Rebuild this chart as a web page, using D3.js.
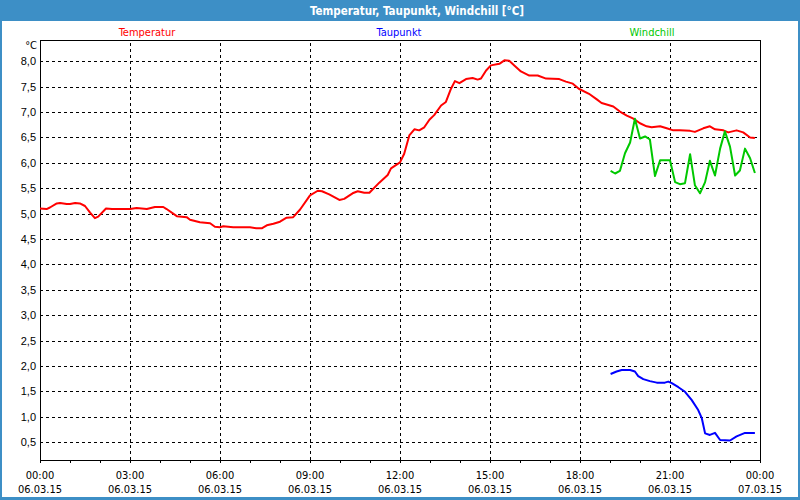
<!DOCTYPE html>
<html>
<head>
<meta charset="utf-8">
<script src="https://cdn.jsdelivr.net/npm/d3@7"></script>
<style>
  body { margin: 0; background: #fff; }
  svg { display: block; font-family: "DejaVu Sans Condensed", "Liberation Sans", sans-serif; }
</style>
</head>
<body>
<svg id="chart" width="800" height="500"></svg>
<script>
// series data, hours since 06.03.15 00:00
const tempHours = [0, 0.22, 0.33, 0.56, 0.67, 0.89, 1.0, 1.17, 1.33, 1.5, 1.67, 1.83, 1.94, 2.2, 2.4, 2.67, 3.0, 3.22, 3.56, 3.83, 4.11, 4.22, 4.56, 4.89, 5.0, 5.33, 5.67, 5.83, 6.0, 6.11, 6.44, 7.0, 7.22, 7.39, 7.56, 7.78, 8.0, 8.22, 8.44, 8.67, 9.0, 9.26, 9.4, 9.64, 9.98, 10.14, 10.42, 10.59, 10.81, 10.98, 11.31, 11.59, 11.7, 12.0, 12.14, 12.31, 12.48, 12.64, 12.81, 12.98, 13.14, 13.37, 13.53, 13.7, 13.83, 13.98, 14.2, 14.42, 14.59, 14.7, 14.87, 15.03, 15.31, 15.48, 15.64, 15.81, 16.03, 16.31, 16.59, 16.87, 17.31, 17.53, 17.76, 17.96, 18.3, 18.56, 18.72, 18.89, 19.11, 19.33, 19.56, 19.78, 20.0, 20.22, 20.39, 20.67, 20.89, 21.11, 21.33, 21.67, 21.83, 22.11, 22.33, 22.5, 22.78, 22.94, 23.22, 23.44, 23.67, 23.83]
const tempValues = [5.10, 5.09, 5.12, 5.20, 5.21, 5.19, 5.19, 5.21, 5.20, 5.15, 5.02, 4.91, 4.94, 5.10, 5.09, 5.09, 5.09, 5.11, 5.09, 5.13, 5.13, 5.09, 4.95, 4.93, 4.88, 4.83, 4.81, 4.74, 4.73, 4.75, 4.73, 4.73, 4.71, 4.71, 4.77, 4.80, 4.84, 4.92, 4.93, 5.08, 5.36, 5.45, 5.44, 5.38, 5.27, 5.29, 5.40, 5.44, 5.41, 5.41, 5.61, 5.76, 5.89, 6.01, 6.18, 6.54, 6.66, 6.64, 6.70, 6.85, 6.94, 7.13, 7.20, 7.46, 7.61, 7.57, 7.65, 7.67, 7.64, 7.66, 7.82, 7.92, 7.95, 8.02, 8.01, 7.92, 7.80, 7.72, 7.72, 7.66, 7.65, 7.60, 7.56, 7.46, 7.36, 7.25, 7.18, 7.15, 7.11, 7.01, 6.93, 6.87, 6.78, 6.72, 6.70, 6.72, 6.68, 6.64, 6.64, 6.63, 6.61, 6.68, 6.72, 6.66, 6.64, 6.60, 6.64, 6.60, 6.50, 6.49]

const dewHours = [19.02, 19.22, 19.39, 19.67, 19.83, 19.94, 20.11, 20.33, 20.56, 20.83, 20.94, 21.06, 21.28, 21.5, 21.72, 21.94, 22.06, 22.17, 22.33, 22.5, 22.67, 23.0, 23.22, 23.5, 23.83]
const dewValues = [1.84, 1.89, 1.92, 1.92, 1.89, 1.80, 1.74, 1.70, 1.67, 1.67, 1.69, 1.66, 1.58, 1.49, 1.33, 1.13, 0.97, 0.67, 0.64, 0.68, 0.54, 0.53, 0.61, 0.68, 0.68]

const chillHours = [19.02, 19.17, 19.33, 19.5, 19.67, 19.83, 20.0, 20.17, 20.33, 20.5, 20.67, 21.0, 21.17, 21.33, 21.5, 21.67, 21.83, 22.0, 22.17, 22.33, 22.5, 22.67, 22.83, 23.0, 23.17, 23.33, 23.5, 23.67, 23.83]
const chillValues = [5.84, 5.79, 5.84, 6.19, 6.40, 6.87, 6.48, 6.52, 6.46, 5.74, 6.05, 6.05, 5.62, 5.58, 5.60, 6.17, 5.56, 5.40, 5.62, 6.04, 5.75, 6.28, 6.62, 6.32, 5.75, 5.85, 6.28, 6.09, 5.80]

const yTicks = [0.5, 1.0, 1.5, 2.0, 2.5, 3.0, 3.5, 4.0, 4.5, 5.0, 5.5, 6.0, 6.5, 7.0, 7.5, 8.0]
const seriesNames = ["Temperatur", "Taupunkt", "Windchill"]
const seriesColors = ["#ff0000", "#0000ff", "#00c800"]
const titleText = "Temperatur, Taupunkt, Windchill [°C]"

const W = 800, H = 500
const plot = { left: 40, right: 760, top: 40, bottom: 460 }
const day0 = new Date(2015, 2, 6)
const atHour = h => new Date(day0.getTime() + h * 3600e3)

const svg = d3.select("#chart")
const x = d3.scaleTime().domain([day0, atHour(24)]).range([plot.left, plot.right])
const y = d3.scaleLinear().domain([0.146, 8.42]).range([plot.bottom, plot.top])

// window frame + title bar
const frame = "#3d8fc6"
svg.append("rect").attr("width", W).attr("height", H).attr("fill", frame)
svg.append("rect").attr("x", 2).attr("y", 21).attr("width", W - 4).attr("height", H - 24).attr("fill", "#fff")
svg.append("text").attr("x", 417).attr("y", 15).attr("text-anchor", "middle")
  .attr("fill", "#fff").attr("font-weight", "bold").attr("font-size", 11.5).text(titleText)

// legend labels
const legendX = [147, 399, 652]
seriesNames.forEach((n, i) => {
  svg.append("text").attr("x", legendX[i]).attr("y", 36).attr("text-anchor", "middle")
    .attr("font-size", 11).attr("fill", seriesColors[i]).text(n)
})
svg.append("text").attr("x", 37).attr("y", 49).attr("text-anchor", "end").attr("font-size", 11).text("°C")

// grid
const dash = "3,3"
const yGrid = svg.append("g").attr("transform", `translate(${plot.left},0)`)
  .call(d3.axisLeft(y).tickValues(yTicks).tickSize(-(plot.right - plot.left)).tickFormat(""))
yGrid.select(".domain").remove()
yGrid.selectAll("line").attr("stroke", "#000").attr("stroke-dasharray", dash).attr("shape-rendering", "crispEdges")

const xGrid = svg.append("g").attr("transform", `translate(0,${plot.bottom})`)
  .call(d3.axisBottom(x).ticks(d3.timeHour.every(3)).tickSize(-(plot.bottom - plot.top)).tickFormat(""))
xGrid.select(".domain").remove()
xGrid.selectAll("line").attr("stroke", "#000").attr("stroke-dasharray", dash).attr("shape-rendering", "crispEdges")

// y labels
const yAx = svg.append("g").attr("transform", `translate(${plot.left},0)`)
  .call(d3.axisLeft(y).tickValues(yTicks).tickSize(0).tickPadding(4)
    .tickFormat(d => d.toFixed(1).replace(".", ",")))
yAx.select(".domain").remove()
yAx.selectAll("text").attr("font-size", 11).attr("font-family", null).attr("fill", "#000")

// hourly ticks on x axis
const xAx = svg.append("g").attr("transform", `translate(0,${plot.bottom})`)
  .call(d3.axisBottom(x).ticks(d3.timeHour.every(1)).tickSize(3).tickFormat(""))
xAx.select(".domain").remove()
xAx.selectAll("line").attr("stroke", "#000").attr("shape-rendering", "crispEdges")

// x labels (two lines)
const fmtTime = d3.timeFormat("%H:%M"), fmtDate = d3.timeFormat("%d.%m.%y")
const xLab = svg.append("g")
x.ticks(d3.timeHour.every(3)).forEach(d => {
  const t = xLab.append("text").attr("text-anchor", "middle").attr("font-size", 11)
  t.append("tspan").attr("x", x(d)).attr("y", 479).text(fmtTime(d))
  t.append("tspan").attr("x", x(d)).attr("y", 493).text(fmtDate(d))
})

// plot frame
svg.append("rect").attr("x", plot.left + 0.5).attr("y", plot.top + 0.5)
  .attr("width", plot.right - plot.left).attr("height", plot.bottom - plot.top)
  .attr("fill", "none").attr("stroke", "#000").attr("shape-rendering", "crispEdges")

// series lines
const line = d3.line().x(d => x(atHour(d[0]))).y(d => y(d[1]))
const series = [
  d3.zip(tempHours, tempValues),
  d3.zip(dewHours, dewValues),
  d3.zip(chillHours, chillValues)
]
series.forEach((s, i) => {
  svg.append("path").datum(s).attr("d", line)
    .attr("fill", "none").attr("stroke", seriesColors[i]).attr("stroke-width", 2)
    .attr("stroke-linejoin", "round")
})
</script>
</body>
</html>
